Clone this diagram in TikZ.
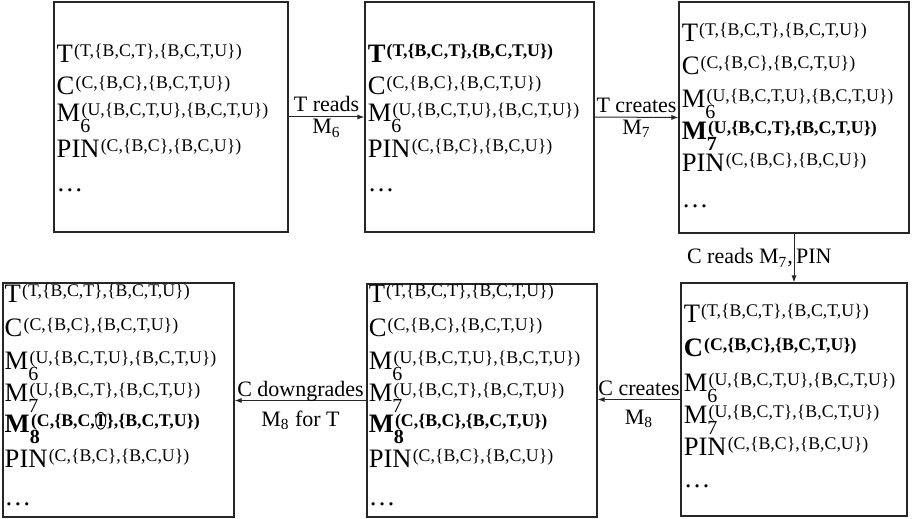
\documentclass[tikz,border=0pt]{standalone}
\usepackage{fontspec}
\setmainfont{Liberation Serif}
\usetikzlibrary{arrows.meta}

% font sizes for the state entries
\newcommand\supsz{\fontsize{8.9}{9}\selectfont}
\newcommand\subsz{\fontsize{10}{11}\selectfont}
\newcommand\labsz{\fontsize{11}{13}\selectfont}

% entry: name, optional subscript, superscript label
\newcommand\ent[3]{#1\if\relax\detokenize{#2}\relax\else\rlap{\raisebox{-5.4pt}{\subsz #2}}\fi\kern0.6pt\raisebox{3pt}{\supsz #3}}
\newcommand\bent[3]{{\bfseries\ent{#1}{#2}{#3}}}

% T inside a thin ellipse
\newcommand\ringT{\tikz[baseline=0pt]{\draw[line width=0.45pt, overlay] (2.9pt,2.8pt) ellipse[x radius=2.5pt, y radius=4.2pt];}T}

% standard entries
\newcommand\eT{\ent{T}{}{(T,\{B,C,T\},\{B,C,T,U\})}}
\newcommand\eC{\ent{C}{}{(C,\{B,C\},\{B,C,T,U\})}}
\newcommand\eMsix{\ent{M}{6}{(U,\{B,C,T,U\},\{B,C,T,U\})}}
\newcommand\eMseven{\ent{M}{7}{(U,\{B,C,T\},\{B,C,T,U\})}}
\newcommand\ePIN{\ent{PIN}{}{(C,\{B,C\},\{B,C,U\})}}

% a block of lines; base pitch 15pt, extra space given per line break
\newcommand\stack[1]{\parbox[t]{140pt}{\fontsize{13.3}{15pt}\selectfont\lineskiplimit=-20pt\relax #1}}

\tikzset{
  state/.style={draw=black!85, line width=0.65pt, inner sep=0pt},
  lines/.style={inner sep=0pt, anchor=base west},
  arr/.style={draw=black!85, line width=0.5pt, -{Latex[length=3.5pt,width=2.6pt]}},
  lab/.style={inner sep=0pt, anchor=base, font=\labsz},
}

\begin{document}
\begin{tikzpicture}[x=0.5pt, y=-0.5pt]
\useasboundingbox (0,0) rectangle (912,519);

% state boxes
\node[state, minimum width=117pt, minimum height=115pt] (b1) at (171,117) {};
\node[state, minimum width=114.5pt, minimum height=115pt] (b2) at (479.5,117) {};
\node[state, minimum width=115pt, minimum height=115.5pt] (b3) at (794,117.5) {};
\node[state, minimum width=115.5pt, minimum height=117pt] (b4) at (118.5,400) {};
\node[state, minimum width=115pt, minimum height=116.5pt] (b5) at (482,400.5) {};
\node[state, minimum width=113pt, minimum height=116.5pt] (b6) at (794,399.5) {};

% contents
\node[lines] (t1) at ([shift={(3,61)}]b1.north west)
  {\stack{\eT\\[1pt] \eC\\[-1.5pt] \eMsix\\[3pt] \ePIN\\[2pt] \textellipsis}};
\node[lines] (t2) at ([shift={(3,61)}]b2.north west)
  {\stack{\bent{T}{}{(T,\{B,C,T\},\{B,C,T,U\})}\\[1pt] \eC\\[-1.5pt] \eMsix\\[3pt] \ePIN\\[2pt] \textellipsis}};
\node[lines] (t3) at ([shift={(3,40)}]b3.north west)
  {\stack{\eT\\[1.5pt] \eC\\[1.5pt] \eMsix\\[1pt] \bent{M}{7}{(U,\{B,C,T\},\{B,C,T,U\})}\\[1pt] \ePIN\\[3pt] \textellipsis}};
\node[lines] (t6) at ([shift={(3,40)}]b6.north west)
  {\stack{\eT\\[2pt] \bent{C}{}{(C,\{B,C\},\{B,C,T,U\})}\\[2.5pt] \eMsix\\[1pt] \eMseven\\[1pt] \ePIN\\[1pt] \textellipsis}};
\node[lines] (t5) at ([shift={(2,19)}]b5.north west)
  {\stack{\eT\\[2pt] \eC\\[1.5pt] \eMsix\\[1pt] \eMseven\\[0.5pt] \bent{M}{8}{(C,\{B,C\},\{B,C,T,U\})}\\[2.5pt] \ePIN\\[4pt] \textellipsis}};
\node[lines] (t4) at ([shift={(2,20)}]b4.north west)
  {\stack{\eT\\[2pt] \eC\\[1.5pt] \eMsix\\[1pt] \eMseven\\[0.5pt] \bent{M}{8}{(C,\{B,C,\ringT\},\{B,C,T,U\})}\\[2.5pt] \ePIN\\[4pt] \textellipsis}};

% transitions
\draw[arr] (b1.east) -- (b2.west)
  node[lab, midway, yshift=2.5pt] (l1a) {T reads}
  node[lab, midway, yshift=-8.5pt] (l1b) {M\textsubscript{6}};
\draw[arr] (b2.east) -- (b3.west)
  node[lab, midway, yshift=2.5pt] (l2a) {T creates}
  node[lab, midway, yshift=-8.5pt] (l2b) {M\textsubscript{7}};
\draw[arr] (b3.south) -- (b6.north)
  node[lab, pos=0.62, anchor=base east, xshift=-0.3pt] (l3a) {C reads M\textsubscript{7},}
  node[lab, pos=0.62, anchor=base west, xshift=0.8pt] (l3b) {PIN};
\draw[arr] (b6.west) -- (b6.west -| b5.east)
  node[lab, midway, yshift=2pt] (l4a) {C creates}
  node[lab, midway, yshift=-12.5pt] (l4b) {M\textsubscript{8}};
\draw[arr] (b5.west) -- (b5.west -| b4.east)
  node[lab, midway, yshift=2pt] (l5a) {C downgrades}
  node[lab, midway, yshift=-13pt] (l5b) {M\textsubscript{8} for T};
\end{tikzpicture}
\end{document}
